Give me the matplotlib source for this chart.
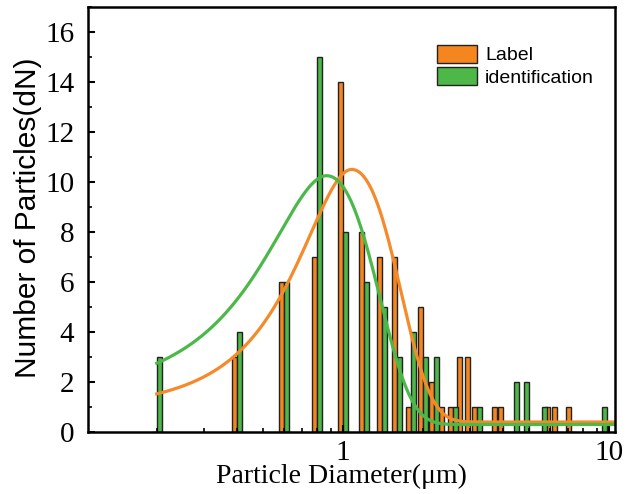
import numpy as np
import matplotlib.pyplot as plt
from matplotlib.ticker import LogLocator, MultipleLocator, NullFormatter, FuncFormatter

# Data
diameters = [0.2, 0.4, 0.6, 0.8, 1.0, 1.2, 1.4, 1.6, 1.8, 2.0, 2.2, 2.4, 2.6,
             2.8, 3.0, 3.2, 3.8, 4.0, 4.4, 4.8, 5.6, 6.0, 6.4, 7.2, 9.4]
label_counts = [0, 3, 6, 7, 14, 8, 7, 7, 1, 5, 2, 1, 1,
                3, 3, 1, 1, 1, 0, 0, 0, 1, 1, 1, 0]
ident_counts = [3, 4, 6, 15, 8, 6, 5, 3, 4, 3, 3, 0, 1,
                0, 0, 1, 0, 0, 2, 2, 1, 0, 0, 0, 1]

# fit parameters: baseline, height, centre, left / right sigma
label_fit = (0.40, 10.1, 1.08, 0.42, 0.50)
ident_fit = (0.30, 9.95, 0.87, 0.40, 0.44)

orange = '#F5861F'
green = '#4DB748'


def fit_curve(x, p):
    y0, h, xc, sl, sr = p
    s = np.where(x < xc, sl, sr)
    return y0 + h * np.exp(-(x - xc) ** 2 / (2 * s ** 2))


fig = plt.figure(figsize=(6.39, 4.94), dpi=100)
ax = fig.add_axes([0.138, 0.1255, 0.8245, 0.8605])

# bars of constant width on the log axis
d = np.log10(diameters)
bw = 0.0190
ax.bar(10 ** (d - bw), label_counts, width=10 ** d - 10 ** (d - bw), align='edge',
       color=orange, edgecolor='#222222', linewidth=1.0, label='Label')
ax.bar(10 ** d, ident_counts, width=10 ** (d + bw) - 10 ** d, align='edge',
       color=green, edgecolor='#222222', linewidth=1.0, label='identification')

xs = np.logspace(np.log10(0.2), np.log10(10.6), 400)
ax.plot(xs, fit_curve(xs, label_fit), color='#F58A2A', lw=2.3)
ax.plot(xs, fit_curve(xs, ident_fit), color='#4CB84A', lw=2.3)

ax.set_xscale('log')
ax.set_xlim(0.1105, 10.55)
ax.set_ylim(0, 17)

ax.xaxis.set_major_locator(LogLocator(base=10))
ax.xaxis.set_major_formatter(FuncFormatter(lambda v, p: '%g' % v))
ax.xaxis.set_minor_locator(LogLocator(base=10, subs=np.arange(2, 10)))
ax.xaxis.set_minor_formatter(NullFormatter())
ax.yaxis.set_major_locator(MultipleLocator(2))
ax.yaxis.set_minor_locator(MultipleLocator(1))
for lab in ax.get_xticklabels() + ax.get_yticklabels():
    lab.set_fontfamily('Liberation Serif')
    lab.set_fontsize(21)

ax.tick_params(which='major', direction='in', length=5, width=1.5)
ax.tick_params(axis='y', which='major', pad=10)
ax.tick_params(axis='x', which='major', pad=6)
ax.tick_params(which='minor', direction='in', length=3, width=1.2)
for s in ax.spines.values():
    s.set_linewidth(1.8)

ax.set_xlabel('Particle Diameter(\u03bcm)', fontfamily='Liberation Serif', fontsize=20)
ax.set_ylabel('Number of Particles(dN)', fontfamily='Liberation Sans', fontsize=21.5)
ax.xaxis.set_label_coords(0.48, -0.075, transform=ax.transAxes)
ax.xaxis.label.set_va('top')
ax.yaxis.set_label_coords(-0.088, 0.505, transform=ax.transAxes)

leg = ax.legend(loc='upper left', bbox_to_anchor=(0.628, 0.952), frameon=False,
                prop={'family': 'Liberation Sans', 'size': 14},
                handlelength=2.1, handleheight=1.05, handletextpad=0.4, labelspacing=0.15)

fig.savefig('out.png', dpi=100)
